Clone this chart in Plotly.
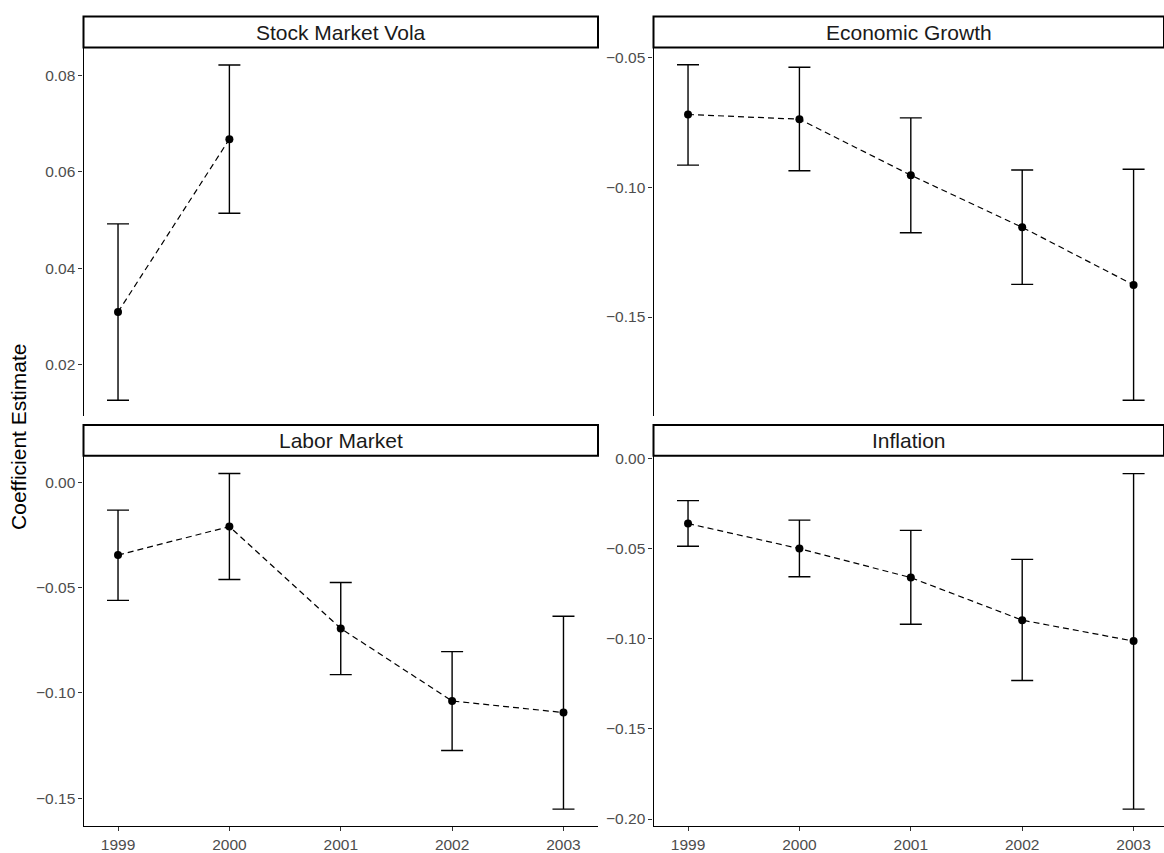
import plotly.graph_objects as go

# ---------------- data ----------------
years = [1999, 2000, 2001, 2002, 2003]
stock_years = [1999, 2000]

stock_est = [0.0309, 0.0668]
stock_lo = [0.0126, 0.0514]
stock_hi = [0.0492, 0.0822]

growth_est = [-0.0719, -0.0737, -0.0953, -0.1154, -0.1376]
growth_lo = [-0.0914, -0.0936, -0.1175, -0.1374, -0.1821]
growth_hi = [-0.0527, -0.0537, -0.0732, -0.0933, -0.0930]

labor_est = [-0.0346, -0.0211, -0.0694, -0.1038, -0.1093]
labor_lo = [-0.0561, -0.0462, -0.0913, -0.1273, -0.1551]
labor_hi = [-0.0133, 0.0041, -0.0476, -0.0804, -0.0636]

infl_est = [-0.0361, -0.0500, -0.0661, -0.0897, -0.1013]
infl_lo = [-0.0487, -0.0656, -0.0920, -0.1232, -0.1945]
infl_hi = [-0.0234, -0.0342, -0.0399, -0.0560, -0.0084]

panel_titles = ["Stock Market Vola", "Economic Growth", "Labor Market", "Inflation"]
x_ticks = [1999, 2000, 2001, 2002, 2003]
y_title = "Coefficient Estimate"

FONT = "Liberation Sans, Arial, sans-serif"

W, H = 1164, 853
fig = go.Figure()

panels = [
    (stock_years, stock_est, stock_lo, stock_hi),
    (years, growth_est, growth_lo, growth_hi),
    (years, labor_est, labor_lo, labor_hi),
    (years, infl_est, infl_lo, infl_hi),
]

for i, (xs, est, lo, hi) in enumerate(panels):
    ax = "" if i == 0 else str(i + 1)
    plus = [h - e for h, e in zip(hi, est)]
    minus = [e - l for e, l in zip(est, lo)]
    fig.add_trace(go.Scatter(
        x=xs, y=est, mode="lines+markers",
        xaxis="x" + ax, yaxis="y" + ax,
        line=dict(color="black", width=1.2, dash="6px,4px"),
        marker=dict(color="black", size=8),
        error_y=dict(type="data", array=plus, arrayminus=minus,
                     color="black", thickness=1.4, width=11),
        showlegend=False, cliponaxis=False,
    ))

# ---------------- layout ----------------
left_dom = [83.5 / W, 598 / W]
right_dom = [653.5 / W, 1.0]
top_dom = [1 - 414 / H, 1 - 42 / H]
bot_dom = [1 - 828 / H, 1 - 454 / H]

x_range_left = [1998.69, 2003.31]
x_range_right = [1998.69, 2003.273]

y_ranges = [
    [0.0093, 0.0858],
    [-0.1882, -0.0461],
    [-0.1632, 0.0125],
    [-0.2040, 0.0015],
]
y_dticks = [0.02, 0.05, 0.05, 0.05]

xdoms = [left_dom, right_dom, left_dom, right_dom]
ydoms = [top_dom, top_dom, bot_dom, bot_dom]
xranges = [x_range_left, x_range_right, x_range_left, x_range_right]

tickfont = dict(family=FONT, size=15.5, color="#4d4d4d")

layout = dict(
    width=W, height=H,
    margin=dict(l=0, r=0, t=0, b=0),
    paper_bgcolor="white", plot_bgcolor="white",
    font=dict(family=FONT),
    showlegend=False,
)

for i in range(4):
    ax = "" if i == 0 else str(i + 1)
    bottom = i >= 2
    layout["xaxis" + ax] = dict(
        domain=xdoms[i], range=xranges[i], anchor="y" + ax,
        tickmode="array", tickvals=x_ticks, ticktext=[str(t) for t in x_ticks],
        showgrid=False, zeroline=False,
        showline=bottom, linecolor="black", linewidth=1.2,
        ticks="outside" if bottom else "", ticklen=4, tickcolor="#333333", tickwidth=1.1,
        showticklabels=bottom, tickfont=tickfont,
    )
    layout["yaxis" + ax] = dict(
        domain=ydoms[i], range=y_ranges[i], anchor="x" + ax,
        tick0=0, dtick=y_dticks[i], tickformat=".2f",
        showgrid=False, zeroline=False,
        showline=True, linecolor="black", linewidth=1.2,
        ticks="outside", ticklen=4, tickcolor="#333333", tickwidth=1.1,
        tickfont=tickfont,
    )

fig.update_layout(**layout)

# strips
shapes = []
annotations = []
strip_y = [(1 - 42 / H, 1 - 10.5 / H), (1 - 42 / H, 1 - 10.5 / H),
           (1 - 454 / H, 1 - 423 / H), (1 - 454 / H, 1 - 423 / H)]
for i in range(4):
    ax = "" if i == 0 else str(i + 1)
    y0, y1 = strip_y[i]
    shapes.append(dict(type="rect", xref="x" + ax + " domain", yref="paper",
                       x0=0, x1=1, y0=y0, y1=y1,
                       line=dict(color="black", width=2), fillcolor="white", layer="above"))
    annotations.append(dict(xref="x" + ax + " domain", yref="paper",
                            x=0.5, y=(y0 + y1) / 2, text=panel_titles[i], showarrow=False,
                            font=dict(family=FONT, size=21, color="#1a1a1a"),
                            xanchor="center", yanchor="middle"))

annotations.append(dict(xref="paper", yref="paper", x=19 / W, y=1 - 435 / H,
                        text=y_title, textangle=-90, showarrow=False,
                        font=dict(family=FONT, size=21, color="black"),
                        xanchor="center", yanchor="middle"))

fig.update_layout(shapes=shapes, annotations=annotations)

fig.write_html(
    "out.html",
    config={"displayModeBar": False},
    post_script="document.body.style.margin='0';document.body.style.overflow='hidden';"
                "document.documentElement.style.overflow='hidden';",
)
